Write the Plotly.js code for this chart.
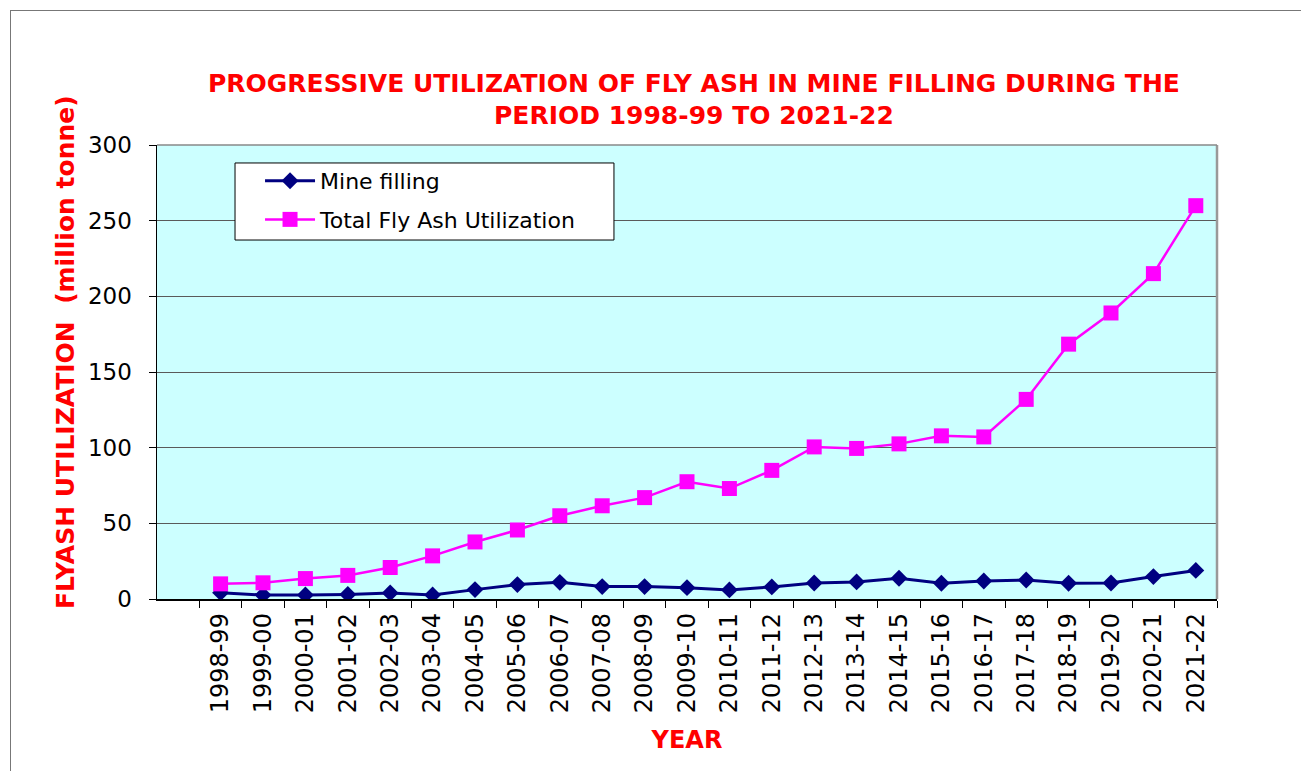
<!DOCTYPE html>
<html>
<head>
<meta charset="utf-8">
<script src="https://cdn.plot.ly/plotly-3.0.1.min.js"></script>
<style>
html,body{margin:0;padding:0;background:#fff;overflow:hidden;}
#frame{position:absolute;left:10px;top:10px;width:1400px;height:900px;border-left:1px solid #777;border-top:1px solid #777;pointer-events:none;z-index:5;}
#chart{position:absolute;left:0;top:0;width:1301px;height:771px;}
</style>
</head>
<body>
<div id="chart"></div>
<div id="frame"></div>
<script>
var years = ["1998-99","1999-00","2000-01","2001-02","2002-03","2003-04","2004-05","2005-06",
  "2006-07","2007-08","2008-09","2009-10","2010-11","2011-12","2012-13","2013-14","2014-15",
  "2015-16","2016-17","2017-18","2018-19","2019-20","2020-21","2021-22"];
var mineFilling = [4.2, 2.6, 2.6, 3.0, 4.0, 2.7, 6.2, 9.5, 11.0, 8.2, 8.2, 7.5,
  6.0, 8.0, 10.6, 11.3, 13.7, 10.4, 11.9, 12.6, 10.4, 10.6, 14.8, 18.9];
var totalUtilization = [10.0, 10.7, 13.5, 15.6, 20.8, 28.5, 37.7, 45.6, 55.0, 61.6, 67.0, 77.5,
  73.0, 85.0, 100.5, 99.5, 102.5, 107.8, 107.1, 131.9, 168.4, 189.0, 215.0, 259.9];
var chartTitle = "PROGRESSIVE UTILIZATION OF FLY ASH IN MINE FILLING DURING THE<br>PERIOD 1998-99 TO 2021-22";
var yTitle = "FLYASH UTILIZATION  (million tonne)";
var xTitle = "YEAR";

var traces = [
  {x: years, y: mineFilling, name: "Mine filling", type: "scatter", mode: "lines+markers",
   legendgroup: "a",
   line: {color: "#000080", width: 3}, marker: {symbol: "diamond", size: 13, color: "#000080"}},
  {x: years, y: totalUtilization, name: "Total Fly Ash Utilization", type: "scatter", mode: "lines+markers",
   legendgroup: "b",
   line: {color: "#FF00FF", width: 2.5}, marker: {symbol: "square", size: 15, color: "#FF00FF"}}
];

var layout = {
  width: 1301, height: 771,
  margin: {l: 157, r: 84, t: 145, b: 172},
  paper_bgcolor: "#ffffff",
  plot_bgcolor: "#CCFFFF",
  font: {family: "DejaVu Sans, Verdana, sans-serif", color: "#000"},
  title: {
    text: chartTitle,
    font: {family: "DejaVu Sans, Verdana, sans-serif", size: 25, color: "#FF0000", weight: "bold"},
    xref: "container", yref: "container", x: 0.5334, xanchor: "center", y: 0.881, yanchor: "middle"
  },
  xaxis: {
    type: "category",
    range: [-1.5, 23.5],
    tickson: "boundaries",
    ticks: "outside", ticklen: 7, tickcolor: "#000", tickwidth: 1,
    tickangle: -90,
    tickfont: {size: 24, color: "#000"},
    ticklabelstandoff: 3,
    showline: true, linecolor: "#000", linewidth: 1.5,
    showgrid: false, zeroline: false,
    title: {text: xTitle, font: {size: 24, color: "#FF0000", weight: "bold"}, standoff: 19}
  },
  yaxis: {
    range: [0, 300],
    dtick: 50,
    ticks: "outside", ticklen: 7, tickcolor: "#000", tickwidth: 1,
    tickfont: {size: 23, color: "#000"},
    ticklabelstandoff: 12,
    showline: true, linecolor: "#000", linewidth: 1.5,
    showgrid: true, gridcolor: "#5a5a5a", gridwidth: 1,
    zeroline: false
  },
  showlegend: true,
  legend: {
    x: 0.0972, y: 0.967, xanchor: "left", yanchor: "top",
    bgcolor: "rgba(0,0,0,0)", borderwidth: 0,
    font: {size: 22, color: "#000"},
    traceorder: "grouped", tracegroupgap: 7,
    itemwidth: 50
  },
  annotations: [
    {text: yTitle, xref: "paper", yref: "paper", x: -0.0868, y: 0.544, xanchor: "center", yanchor: "middle",
     textangle: -90, showarrow: false, font: {size: 25, color: "#FF0000", weight: "bold"}}
  ],
  shapes: [
    {type: "rect", xref: "paper", yref: "paper", x0: 0.0736, x1: 0.4311, y0: 0.7907, y1: 0.9604,
     fillcolor: "#ffffff", line: {color: "#000", width: 1}, layer: "above"},
    {type: "line", xref: "paper", yref: "paper", x0: 1, x1: 1, y0: 0, y1: 1, line: {color: "#999", width: 2.5}},
    {type: "line", xref: "paper", yref: "paper", x0: 0, x1: 1, y0: 1, y1: 1, line: {color: "#888", width: 1.5}}
  ]
};

Plotly.newPlot("chart", traces, layout, {displayModeBar: false, staticPlot: true});
</script>
</body>
</html>
